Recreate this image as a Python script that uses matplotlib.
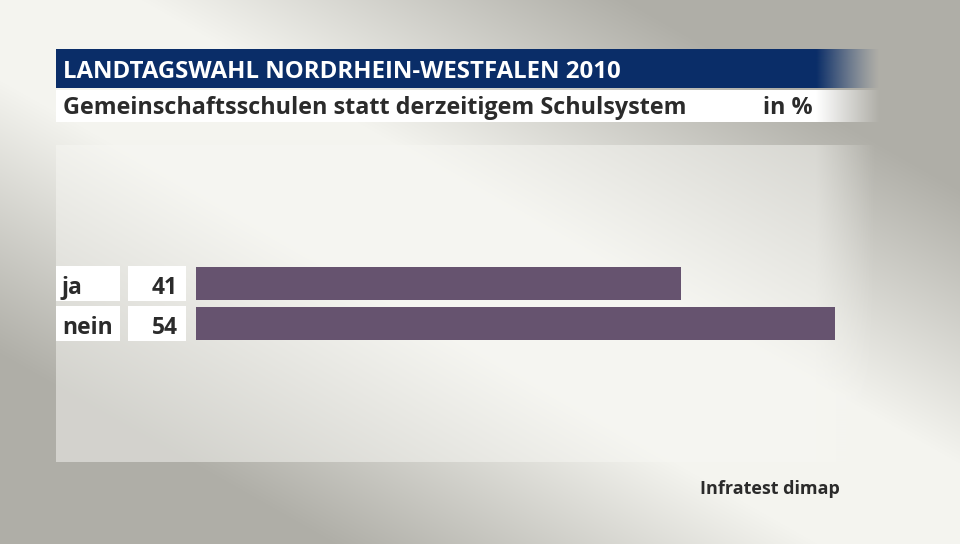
import numpy as np
import matplotlib
matplotlib.use("Agg")
import matplotlib.pyplot as plt
from matplotlib.patches import Rectangle
from matplotlib.transforms import blended_transform_factory

# ---- data ----
categories = ["ja", "nein"]
values = [41, 54]
title = "LANDTAGSWAHL NORDRHEIN-WESTFALEN 2010"
subtitle = "Gemeinschaftsschulen statt derzeitigem Schulsystem"
unit = "in %"
source = "Infratest dimap"

W, H = 960, 544
FONT = ["Open Sans", "DejaVu Sans"]
NAVY = np.array([10, 45, 104]) / 255
BAR = "#66536f"
TXT = "#2b2b2b"

fig = plt.figure(figsize=(W / 100, H / 100), dpi=100)

# background axes in pixel coords
bg = fig.add_axes([0, 0, 1, 1])
bg.set_xlim(0, W)
bg.set_ylim(H, 0)
bg.axis("off")

yy, xx = np.mgrid[0:H, 0:W]
slope = H / W
d = np.abs(slope * xx - yy) / np.sqrt(1 + slope ** 2)
t = np.clip((d - 70) / 240, 0, 1)
light = np.array([244, 244, 239]) / 255
dark = np.array([175, 174, 167]) / 255
img = light[None, None, :] * (1 - t[..., None]) + dark[None, None, :] * t[..., None]
bg.imshow(img, extent=(0, W, H, 0), aspect="auto", zorder=0, interpolation="bilinear")

# lighter plot panel with fading right edge
PANEL = np.array([247, 247, 243]) / 255
bg.add_patch(Rectangle((56, 145), 760, 317, facecolor=PANEL, alpha=0.5, lw=0, zorder=1))
grad = np.ones((1, 60, 4))
grad[..., :3] = PANEL
grad[0, :, 3] = np.linspace(0.5, 0.0, 60)
bg.imshow(grad, extent=(816, 876, 462, 145), aspect="auto", zorder=1, interpolation="bilinear")

# title bar
bg.add_patch(Rectangle((56, 49), 760, 39, facecolor=NAVY, lw=0, zorder=2))
g = np.ones((1, 64, 4))
g[..., :3] = NAVY
g[0, :, 3] = np.linspace(1, 0, 64) ** 1.2
bg.imshow(g, extent=(816, 880, 88, 49), aspect="auto", zorder=2, interpolation="bilinear")

# subtitle bar
bg.add_patch(Rectangle((56, 90), 760, 32, facecolor="white", lw=0, zorder=2))
g2 = np.ones((1, 64, 4))
g2[0, :, 3] = np.linspace(1, 0, 64)
bg.imshow(g2, extent=(816, 880, 122, 90), aspect="auto", zorder=2, interpolation="bilinear")

bg.text(63, 77.5, title, color="white", fontsize=17.3, fontweight="bold",
        family=FONT, va="baseline", ha="left", zorder=3)
bg.text(63, 114, subtitle, color=TXT, fontsize=16.8, fontweight="bold",
        family=FONT, va="baseline", ha="left", zorder=3)
bg.text(813, 114, unit, color=TXT, fontsize=16.8, fontweight="bold",
        family=FONT, va="baseline", ha="right", zorder=3)
bg.text(840, 494, source, color=TXT, fontsize=13, fontweight="bold",
        family=FONT, va="baseline", ha="right", zorder=3)

# bar axes
x0, x1 = 196, 835
ytop, ybot = 263.5, 343.5
ax = fig.add_axes([x0 / W, (H - ybot) / H, (x1 - x0) / W, (ybot - ytop) / H])
ax.patch.set_alpha(0)
ax.set_xlim(0, 54)
ax.set_ylim(len(categories) - 0.5, -0.5)
ax.axis("off")
pos = np.arange(len(categories))
ax.barh(pos, values, height=0.825, color=BAR, zorder=3)

tr = blended_transform_factory(bg.transData, ax.transData)
for i, (c, v) in enumerate(zip(categories, values)):
    ax.add_patch(Rectangle((56, i - 0.44), 64, 0.88, transform=tr, facecolor="white",
                           lw=0, clip_on=False, zorder=2))
    ax.add_patch(Rectangle((128, i - 0.44), 58, 0.88, transform=tr, facecolor="white",
                           lw=0, clip_on=False, zorder=2))
    ax.text(62, i + 0.27, c, transform=tr, color=TXT, fontsize=16.5, fontweight="bold",
            family=FONT, va="baseline", ha="left", zorder=4)
    ax.text(178, i + 0.27, str(v), transform=tr, color=TXT, fontsize=16.5, fontweight="bold",
            family=FONT, va="baseline", ha="right", zorder=4)

fig.savefig("out.png", dpi=100)
